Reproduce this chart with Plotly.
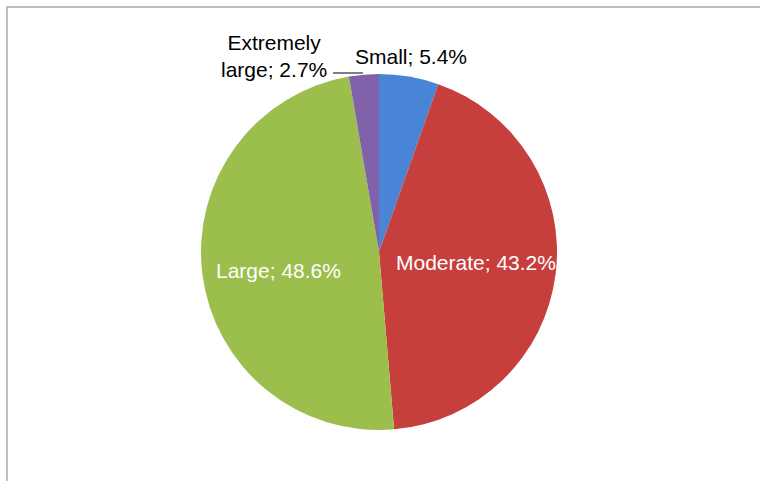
import plotly.graph_objects as go

labels = ["Small", "Moderate", "Large", "Extremely large"]
values = [5.4, 43.2, 48.6, 2.7]
colors = ["#4a84d6", "#c63f3d", "#9cbe4c", "#8161aa"]

W, H = 760, 481
cx, cy, r = 379, 252, 178

fig = go.Figure(go.Pie(
    labels=labels, values=values, sort=False, direction="clockwise",
    rotation=0, marker=dict(colors=colors, line=dict(width=0)),
    textinfo="none", hoverinfo="label+percent", showlegend=False,
    domain=dict(x=[(cx - r) / W, (cx + r) / W], y=[1 - (cy + r) / H, 1 - (cy - r) / H]),
))

font = dict(family="Liberation Sans, Arial", size=21)
def ann(text, x, y, color):
    fig.add_annotation(text=text, x=x / W, y=1 - y / H, xref="paper", yref="paper",
                       xanchor="center", yanchor="middle",
                       showarrow=False, font=dict(color=color, **font), align="center")

ann(f"Extremely<br>{labels[3].split()[1]}; {values[3]}%", 274, 56, "black")
ann(f"{labels[0]}; {values[0]}%", 411, 57, "black")
ann(f"{labels[1]}; {values[1]}%", 476, 262, "white")
ann(f"{labels[2]}; {values[2]}%", 278, 270, "white")

fig.add_shape(type="line", xref="paper", yref="paper", x0=333 / W, x1=363 / W,
              y0=1 - 73 / H, y1=1 - 73 / H, line=dict(color="black", width=1))
fig.add_shape(type="rect", xref="paper", yref="paper", x0=7 / W, x1=1.05, y0=1 - 7 / H, y1=-0.05,
              line=dict(color="#bfbfbf", width=2))

fig.update_layout(width=W, height=H, margin=dict(l=0, r=0, t=0, b=0),
                  paper_bgcolor="white", plot_bgcolor="white")
fig.write_html("out.html")
